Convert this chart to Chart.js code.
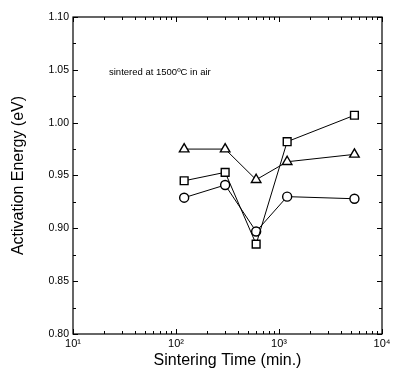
<!DOCTYPE html>
<html>
<head>
<meta charset="utf-8">
<script src="https://cdn.jsdelivr.net/npm/chart.js@4/dist/chart.umd.min.js"></script>
<style>
  body { margin: 0; background: #fff; }
  #wrap { width: 396px; height: 382px; }
</style>
</head>
<body>
<div id="wrap"><canvas id="chart" width="396" height="382"></canvas></div>
<script>
// sintering time in minutes
const times = [120, 300, 600, 1200, 5400];
// activation energy (eV) for the three sample series
const triangleVals = [0.975, 0.975, 0.946, 0.963, 0.970];
const squareVals = [0.945, 0.953, 0.885, 0.982, 1.007];
const circleVals = [0.929, 0.941, 0.897, 0.930, 0.928];

const xTicks = [10, 100, 1000, 10000];
const xTickLabels = ['10\u00b9', '10\u00b2', '10\u00b3', '10\u2074'];
const yTicks = [0.80, 0.85, 0.90, 0.95, 1.00, 1.05, 1.10];

const fontFam = '"Liberation Sans", Arial, sans-serif';

function series(vals, style) {
    let r = 4.5;
    if (style === 'rect') r = 5.5;
    if (style === 'triangle') r = 5.5;
    return {
        data: times.map((t, i) => ({ x: t, y: vals[i] })),
        borderColor: '#000',
        borderWidth: 1,
        backgroundColor: '#fff',
        pointStyle: style,
        pointRadius: r,
        pointBorderWidth: 1.4,
        pointBackgroundColor: '#fff',
        pointBorderColor: '#000',
        tension: 0
    };
}

// frame + inward ticks on all four sides, plus the note text
const framePlugin = {
    id: 'frame',
    afterDraw(chart) {
        const ctx = chart.ctx;
        const a = chart.chartArea;
        const xs = chart.scales.x, ys = chart.scales.y;
        ctx.save();
        ctx.strokeStyle = '#000';
        ctx.lineWidth = 1.2;
        ctx.strokeRect(a.left, a.top, a.right - a.left, a.bottom - a.top);

        ctx.lineWidth = 1;
        ctx.beginPath();
        for (let d = 10; d < 10000; d *= 10) {
            for (let m = 1; m <= 10; m++) {
                const v = d * m;
                if (v > 10000) continue;
                const px = Math.round(xs.getPixelForValue(v)) + 0.5;
                const len = (m === 1 || m === 10) ? 5 : 3;
                ctx.moveTo(px, a.bottom); ctx.lineTo(px, a.bottom - len);
                ctx.moveTo(px, a.top); ctx.lineTo(px, a.top + len);
            }
        }
        for (let v = 0.80; v <= 1.1001; v += 0.025) {
            const py = Math.round(ys.getPixelForValue(v)) + 0.5;
            const major = Math.abs(v * 20 - Math.round(v * 20)) < 0.01;
            const len = major ? 5 : 3;
            ctx.moveTo(a.left, py); ctx.lineTo(a.left + len, py);
            ctx.moveTo(a.right, py); ctx.lineTo(a.right - len, py);
        }
        ctx.stroke();

        ctx.fillStyle = '#000';
        ctx.font = '9.5px ' + fontFam;
        ctx.textAlign = 'left';
        ctx.textBaseline = 'middle';
        ctx.fillText('sintered at 1500\u00baC in air', a.left + 36, ys.getPixelForValue(1.048));
        ctx.restore();
    }
};

new Chart(document.getElementById('chart'), {
    type: 'line',
    data: {
        datasets: [
            series(triangleVals, 'triangle'),
            series(squareVals, 'rect'),
            series(circleVals, 'circle')
        ]
    },
    options: {
        responsive: false,
        animation: false,
        layout: { padding: { left: 0, top: 17, right: 14, bottom: 0 } },
        plugins: { legend: { display: false }, tooltip: { enabled: false } },
        scales: {
            x: {
                type: 'logarithmic',
                min: 10,
                max: 10000,
                grid: { display: false, drawTicks: false },
                border: { display: false },
                afterBuildTicks: s => { s.ticks = xTicks.map(v => ({ value: v })); },
                afterFit: s => { s.height = 48; },
                ticks: {
                    color: '#000',
                    padding: 3,
                    maxRotation: 0,
                    font: { family: fontFam, size: 11 },
                    callback: (v) => xTickLabels[xTicks.indexOf(v)]
                },
                title: {
                    display: true,
                    text: 'Sintering Time (min.)',
                    color: '#000',
                    font: { family: fontFam, size: 16 },
                    padding: { top: 0, bottom: 12 }
                }
            },
            y: {
                min: 0.8,
                max: 1.1,
                grid: { display: false, drawTicks: false },
                border: { display: false },
                afterBuildTicks: s => { s.ticks = yTicks.map(v => ({ value: v })); },
                afterFit: s => { s.width = 73; },
                ticks: {
                    color: '#000',
                    padding: 4,
                    font: { family: fontFam, size: 10.5 },
                    callback: v => v.toFixed(2)
                },
                title: {
                    display: true,
                    text: 'Activation Energy (eV)',
                    color: '#000',
                    font: { family: fontFam, size: 16 },
                    padding: { top: 9, bottom: 0 }
                }
            }
        }
    },
    plugins: [framePlugin]
});
</script>
</body>
</html>
